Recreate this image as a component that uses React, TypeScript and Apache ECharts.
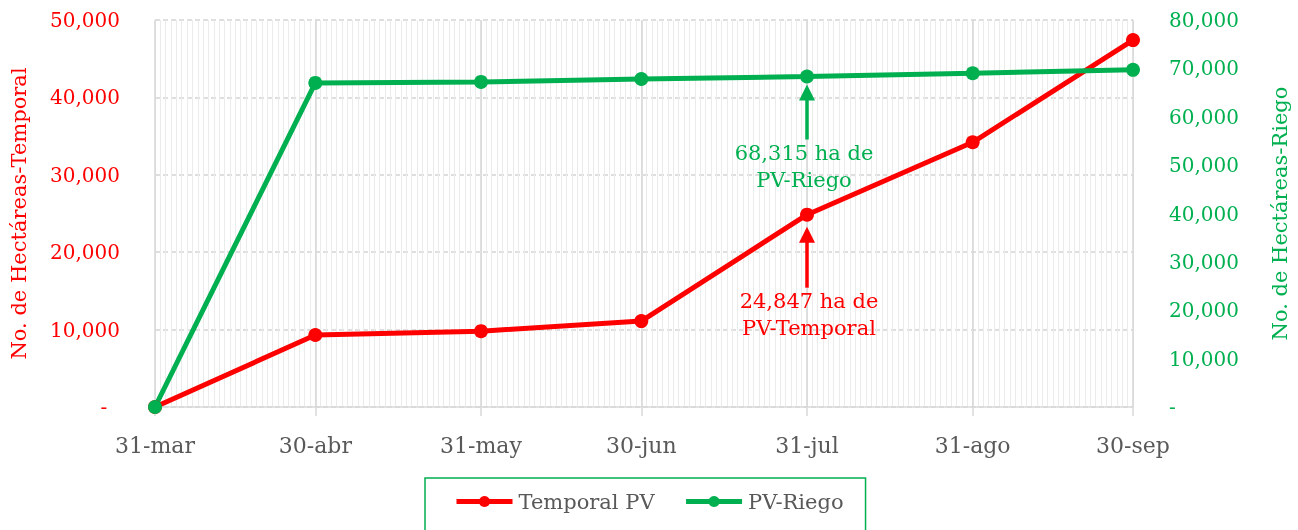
import React, { useEffect, useRef } from "react";
import * as echarts from "echarts";

const tickDates = ["2023-03-31", "2023-04-30", "2023-05-31", "2023-06-30", "2023-07-31", "2023-08-31", "2023-09-30"];
const tickLabels = ["31-mar", "30-abr", "31-may", "30-jun", "31-jul", "31-ago", "30-sep"];
const temporalPV = [0, 9300, 9800, 11100, 24847, 34200, 47400];
const pvRiego = [0, 67000, 67200, 67800, 68315, 69000, 69700];

const RED = "#FF0000";
const GREEN = "#00B050";
const GRAY = "#595959";
const FONT = "DejaVu Serif";

function buildDays(start: string, end: string): string[] {
  const out: string[] = [];
  const s = new Date(start + "T00:00:00Z").getTime();
  const e = new Date(end + "T00:00:00Z").getTime();
  for (let t = s; t <= e; t += 86400000) {
    out.push(new Date(t).toISOString().slice(0, 10));
  }
  return out;
}

const fmt = (v: number) => (v === 0 ? "-" : v.toLocaleString("en-US"));

export default function App() {
  const ref = useRef<HTMLDivElement>(null);
  useEffect(() => {
    if (!ref.current) return;
    const chart = echarts.init(ref.current, null, { renderer: "svg" });
    const days = buildDays(tickDates[0], tickDates[tickDates.length - 1]);
    const isMajor = (_i: number, v: string) => tickDates.indexOf(v) >= 0;
    chart.setOption({
      animation: false,
      textStyle: { fontFamily: FONT },
      grid: { left: 154, right: 162, top: 20, bottom: 123 },
      legend: {
        left: 425,
        top: 478,
        borderColor: GREEN,
        borderWidth: 1.5,
        padding: [13, 22, 40, 29],
        itemGap: 29,
        itemWidth: 56,
        itemHeight: 14,
        lineStyle: { width: 5 },
        textStyle: { fontSize: 21, color: GRAY, fontFamily: FONT, padding: [0, 0, 0, 1] },
        data: ["Temporal PV", "PV-Riego"],
      },
      xAxis: [
        {
          type: "category",
          data: days,
          boundaryGap: false,
          axisLine: { show: true, lineStyle: { color: "#d9d9d9", width: 1.5 } },
          axisTick: { show: true, interval: isMajor, length: 9, lineStyle: { color: "#d9d9d9", width: 1.5 } },
          axisLabel: {
            interval: isMajor,
            formatter: (v: string) => tickLabels[tickDates.indexOf(v)] ?? "",
            color: GRAY,
            fontSize: 22,
            margin: 27,
            fontFamily: FONT,
          },
          splitLine: { show: true, interval: 0, lineStyle: { color: "#ebebeb", width: 1 } },
        },
        {
          type: "category",
          data: days,
          boundaryGap: false,
          position: "bottom",
          axisLine: { show: false },
          axisTick: { show: false },
          axisLabel: { show: false },
          splitLine: { show: true, interval: isMajor, lineStyle: { color: "#d6d6d6", width: 1.5 } },
        },
      ],
      yAxis: [
        {
          type: "value",
          min: 0,
          max: 50000,
          interval: 10000,
          name: "No. de Hectáreas-Temporal",
          nameLocation: "middle",
          nameGap: 126,
          nameTextStyle: { color: RED, fontSize: 21, fontFamily: FONT },
          axisLine: { show: false },
          axisTick: { show: false },
          axisLabel: { formatter: (v: number) => (v === 0 ? "-  " : fmt(v)), color: RED, fontSize: 20, margin: 35, fontFamily: FONT },
          splitLine: { show: true, lineStyle: { color: "#d4d4d4", type: [5, 3], width: 1.5 } },
        },
        {
          type: "value",
          min: 0,
          max: 80000,
          interval: 10000,
          position: "right",
          name: "No. de Hectáreas-Riego",
          nameLocation: "middle",
          nameGap: 136,
          nameRotate: 90,
          nameTextStyle: { color: GREEN, fontSize: 21, fontFamily: FONT },
          axisLine: { show: false },
          axisTick: { show: false },
          axisLabel: { formatter: fmt, color: GREEN, fontSize: 20, margin: 36, fontFamily: FONT },
          splitLine: { show: false },
        },
      ],
      series: [
        {
          name: "Temporal PV",
          type: "line",
          xAxisIndex: 0,
          yAxisIndex: 0,
          data: tickDates.map((d, i) => [d, temporalPV[i]]),
          symbol: "circle",
          symbolSize: 14,
          lineStyle: { color: RED, width: 5 },
          itemStyle: { color: RED },
        },
        {
          name: "PV-Riego",
          type: "line",
          xAxisIndex: 0,
          yAxisIndex: 1,
          data: tickDates.map((d, i) => [d, pvRiego[i]]),
          symbol: "circle",
          symbolSize: 14,
          lineStyle: { color: GREEN, width: 5 },
          itemStyle: { color: GREEN },
        },
      ],
    });

    const annIdx = 4;
    const g = chart.convertToPixel({ xAxisIndex: 0, yAxisIndex: 1 }, [tickDates[annIdx], pvRiego[annIdx]]) as number[];
    const r = chart.convertToPixel({ xAxisIndex: 0, yAxisIndex: 0 }, [tickDates[annIdx], temporalPV[annIdx]]) as number[];
    const arrow = (x: number, tipY: number, tailY: number, color: string) => [
      { type: "line", shape: { x1: x, y1: tipY + 12, x2: x, y2: tailY }, style: { stroke: color, lineWidth: 3.5 } },
      { type: "polygon", shape: { points: [[x, tipY], [x - 8, tipY + 16], [x + 8, tipY + 16]] }, style: { fill: color } },
    ];
    const label = (x: number, y: number, text: string, color: string) => ({
      type: "text",
      style: { text, x, y, align: "center", verticalAlign: "top", fill: color, font: `21px '${FONT}'`, lineHeight: 27 },
    });
    chart.setOption({
      graphic: [
        ...arrow(g[0], g[1] + 8, g[1] + 63, GREEN),
        label(g[0] - 3, g[1] + 63, "68,315 ha de\nPV-Riego", GREEN),
        ...arrow(r[0], r[1] + 12, r[1] + 73, RED),
        label(r[0] + 2, r[1] + 73, "24,847 ha de\nPV-Temporal", RED),
      ],
    });
    return () => chart.dispose();
  }, []);
  return <div ref={ref} style={{ position: "fixed", left: 0, top: 0, width: 1298, height: 530 }} />;
}
